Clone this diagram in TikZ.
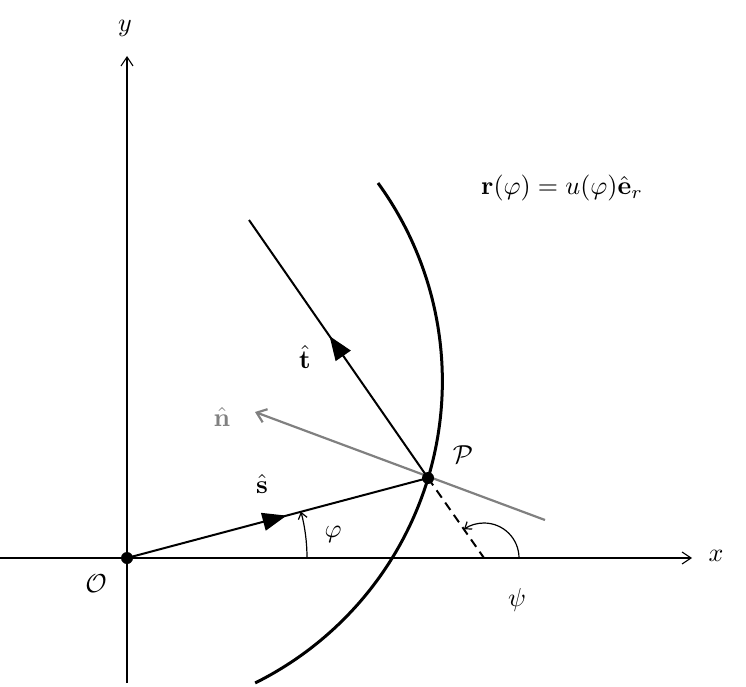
\documentclass[tikz,border=0pt]{standalone}
\usepackage{amsmath}
\usetikzlibrary{arrows.meta,decorations.markings}
\begin{document}
\begin{tikzpicture}[x=1pt,y=-1pt,
  lbl/.style={scale=2.6},
  axis/.style={line width=1.1pt,-{Straight Barb[length=9pt,width=12pt]}},
  mid/.style={decoration={markings,mark=at position #1 with {\arrow{Triangle[length=24pt,width=18pt]}}},postaction={decorate}},
  dot/.style={circle,fill=black,inner sep=0pt,minimum size=12pt}]
\useasboundingbox (0,0) rectangle (746,687);
\coordinate (O) at (127,558);
\coordinate (P) at (428,478);
\coordinate (T) at (249,220);
\coordinate (D) at (484,558);
\coordinate (xe) at (692,558);
\coordinate (xs) at (0,558);
\coordinate (ye) at (127,56);
\coordinate (ys) at (127,683);
\draw[axis] (xs) -- (xe);
\draw[axis] (ys) -- (ye);
\node[lbl] (xl) at (716,556) {$x$};
\node[lbl] (yl) at (125,28) {$y$};
% curve
\draw[line width=3pt] (378,183) arc[start angle=-36, end angle=63.6, radius=337];
\draw[gray,line width=2.2pt,-{Straight Barb[length=9pt,width=14pt]}] (545,520) -- (255,412);
\node[lbl,text=gray] (nl) at (222,417) {$\hat{\mathbf n}$};
\draw[line width=2pt,mid=0.55] (P) -- (T);
\draw[line width=2pt,dashed,dash pattern=on 9pt off 6pt] (P) -- (D);
\draw[line width=2pt,mid=0.53] (O) -- (P);
\node[lbl] (tl) at (305,357) {$\hat{\mathbf t}$};
\node[lbl] (sl) at (262,484) {$\hat{\mathbf s}$};
\draw[line width=1.2pt,-{Straight Barb[length=6pt,width=9pt]}] (307,558) arc[start angle=0,end angle=-14.9,radius=180];
\node[lbl] (phl) at (333,534) {$\varphi$};
\draw[line width=1.2pt,-{Straight Barb[length=6pt,width=9pt]}] (519,558) arc[start angle=0,end angle=-125,radius=35];
\node[lbl] (psl) at (517,600) {$\psi$};
\node[dot] (Od) at (O) {};
\node[dot] (Pd) at (P) {};
\node[lbl] (Ol) at (96,584) {$\mathcal O$};
\node[lbl] (Pl) at (463,455) {$\mathcal P$};
\node[lbl] (rl) at (562,188) {$\mathbf r(\varphi)=u(\varphi)\hat{\mathbf e}_r$};
\end{tikzpicture}
\end{document}
